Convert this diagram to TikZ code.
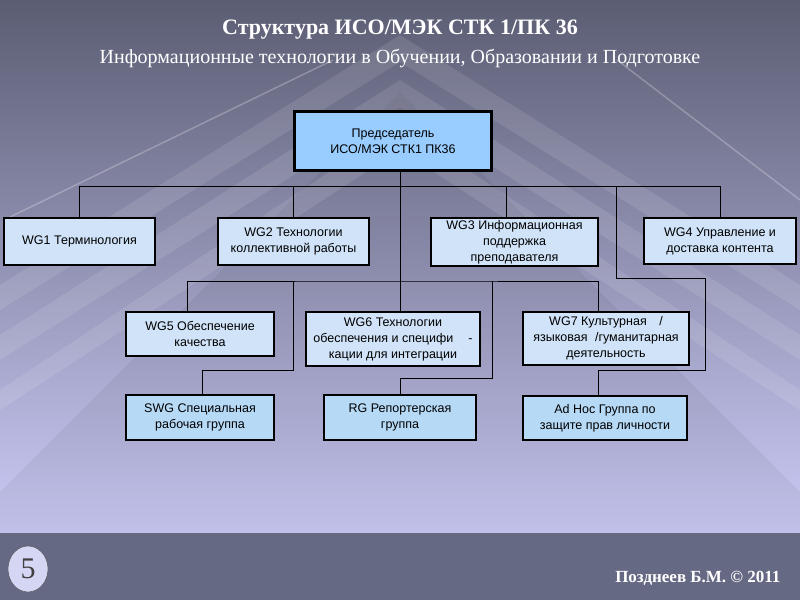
\documentclass[tikz,border=0pt]{standalone}
\usepackage{fontspec}
\setmainfont{Liberation Serif}
\setsansfont{Liberation Sans}
\usetikzlibrary{positioning,calc}
\usetikzlibrary{shapes.geometric}
\definecolor{bgtop}{HTML}{5B5D73}
\definecolor{bgmid}{HTML}{8A8CB0}
\definecolor{bgbot}{HTML}{CBCBF7}
\definecolor{footgray}{HTML}{666983}
\definecolor{chairblue}{HTML}{99CCFF}
\definecolor{wgblue}{HTML}{D0E3F8}
\definecolor{subblue}{HTML}{B6D9F6}
\definecolor{pagegray}{HTML}{D4D6F4}
\tikzset{
  wgbox/.style={rectangle, draw=black, line width=2.4pt, fill=wgblue, inner sep=0pt,
    font=\sffamily\fontsize{12.5}{16}\selectfont, align=center},
  chairbox/.style={wgbox, fill=chairblue},
  subbox/.style={wgbox, fill=subblue},
  link/.style={draw, line width=1pt},
  stripe/.style={fill=white, opacity=0.1},
  heading/.style={text=white, font=\bfseries\fontsize{22}{26}\selectfont}
  }

\begin{document}
\begin{tikzpicture}[x=1pt, y=-1pt]
	% Background
	\useasboundingbox (0,0) rectangle (800,600);
	\shade[top color=bgtop, middle color=bgmid, bottom color=bgbot] (0,0) rectangle (800,533);
	\fill[black, opacity=0.05] (400,92) -- (-41,533) -- (841,533) -- cycle;
	\fill[stripe] (400,35) -- (800,285) -- (800,310) -- (400,62) -- (0,310) -- (0,285) -- cycle;
	\fill[stripe] (400,80) -- (800,335) -- (800,360) -- (400,108) -- (0,360) -- (0,335) -- cycle;
	\fill[stripe] (400,125) -- (800,390) -- (800,410) -- (400,150) -- (0,410) -- (0,390) -- cycle;
	\draw[white, opacity=0.25, line width=1.5pt] (10,217) -- (333,60);
	\draw[white, opacity=0.25, line width=1.5pt] (617,60) -- (800,200);
	\fill[footgray] (0,533) rectangle (800,600);

	% Titles
	\node[heading] (title) at (400,30) {Структура ИСО/МЭК СТК 1/ПК 36};
	\node[heading, font=\fontsize{20}{22}\selectfont] (subtitle) at (400,58)
		{Информационные технологии в Обучении, Образовании и Подготовке};

	% Nodes
	\node[chairbox, minimum width=197, minimum height=59] (chair) at (393,141)
		{Председатель\\ИСО/МЭК СТК1 ПК36};
	\node[wgbox, minimum width=151, minimum height=47] (wg1) at (79.5,241.5) {WG1 Терминология};
	\node[wgbox, minimum width=151, minimum height=47] (wg2) at (293.5,241.5) {WG2 Технологии\\коллективной работы};
	\node[wgbox, minimum width=167, minimum height=48] (wg3) at (514.5,242) {WG3 Информационная\\поддержка\\преподавателя};
	\node[wgbox, minimum width=152, minimum height=46] (wg4) at (720,241) {WG4 Управление и\\доставка контента};
	\node[wgbox, minimum width=148, minimum height=44] (wg5) at (200,334) {WG5 Обеспечение\\качества};
	\node[wgbox, minimum width=174, minimum height=54] (wg6) at (393,339)
		{WG6 Технологии\\обеспечения и специфи\hspace{1.2em}-\\кации для интеграции};
	\node[wgbox, minimum width=166, minimum height=53] (wg7) at (606,338.5)
		{WG7 Культурная\hspace{1em}/\\языковая\hspace{0.6em}/гуманитарная\\деятельность};
	\node[subbox, minimum width=148, minimum height=45] (swg) at (200,417.5) {SWG Специальная\\рабочая группа};
	\node[subbox, minimum width=152, minimum height=45] (rg) at (400,417.5) {RG Репортерская\\группа};
	\node[subbox, minimum width=164, minimum height=44] (adhoc) at (605,418) {Ad Hoc Группа по\\защите прав личности};

	% Footer
	\node[ellipse, draw=black!70, thin, fill=pagegray, minimum width=40, minimum height=46, inner sep=0pt,
		text=black!75, font=\fontsize{30}{32}\selectfont] (page) at (28,569) {5};
	\node[heading, font=\bfseries\fontsize{17}{19}\selectfont, anchor=east] (author) at (784,578)
		{Позднеев Б.М. © 2011};

	% Lines
	\coordinate (trunk) at (400,186);
	\coordinate (bus2) at (400,281);
	\coordinate (swgtap) at (293,281);
	\coordinate (rgtap) at (492,281);
	\coordinate (adtap) at (616,186);
	\draw[link] (trunk |- chair.south) -- (trunk |- wg6.north);
	\draw[link] (wg1.north) -- (wg1.north |- trunk) -- (wg4.north |- trunk) -- (wg4.north);
	\draw[link] (wg2.north) -- (wg2.north |- trunk);
	\draw[link] ([xshift=-8]wg3.north) -- ([xshift=-8]wg3.north |- trunk);
	\draw[link] ([xshift=-13]wg5.north) |- (bus2) -| ([xshift=-8]wg7.north);
	\draw[link] (swgtap) -- ++(0,89) -| ([xshift=2]swg.north);
	\draw[link] (rgtap) -- ++(0,97) -| (rg.north);
	\draw[link] (adtap) -- ++(0,92) -- ++(89,0) -- ++(0,92) -| ([xshift=-7]adhoc.north);
\end{tikzpicture}
\end{document}
